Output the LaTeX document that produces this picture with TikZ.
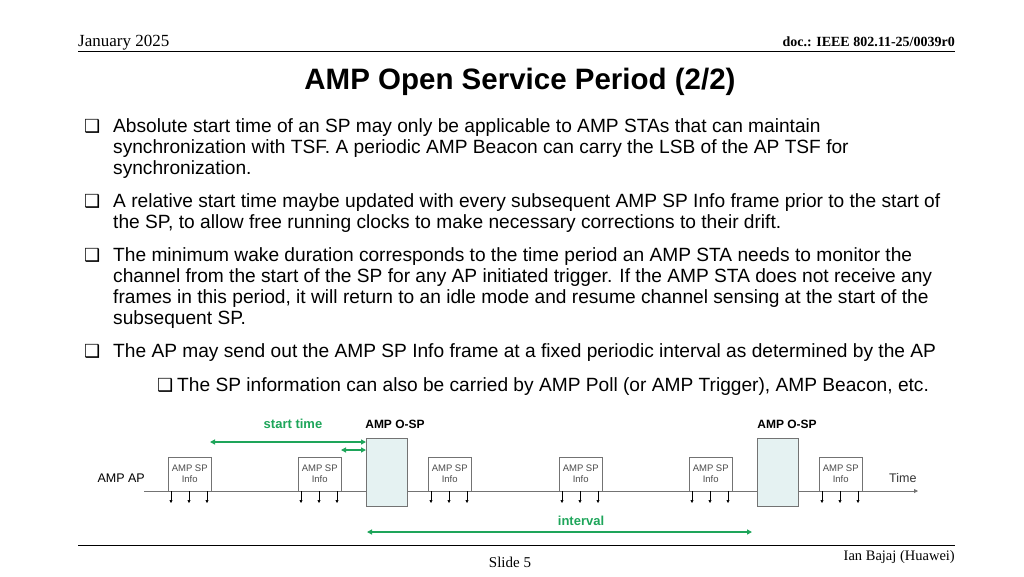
\documentclass[tikz,border=0pt]{standalone}
\usepackage{fontspec}
\setmainfont{Liberation Sans}
\newfontfamily\serif{Liberation Serif}
\newfontfamily\sym{DejaVu Sans}
\usetikzlibrary{arrows.meta}
\definecolor{grncol}{RGB}{30,165,90}
\begin{document}
\begin{tikzpicture}[x=1pt,y=-1pt,
  txt/.style={anchor=base west,inner sep=0pt,font=\fontsize{19.15}{22}\selectfont},
  bul/.style={anchor=base west,inner sep=0pt,font=\sym\fontsize{18}{20}\selectfont},
  info/.style={draw=black!55,fill=white,minimum width=43pt,minimum height=34pt,inner sep=0pt,anchor=south west,align=center,font=\fontsize{9.5}{11.5}\selectfont,text=black!70},
  osp/.style={draw=black!55,fill=teal!10,minimum width=41pt,minimum height=68pt,inner sep=0pt,anchor=north west},
  grn/.style={draw=grncol,line width=1.3pt,{Triangle[length=5pt,width=5pt]}-{Triangle[length=5pt,width=5pt]}},
  tick/.style={-{Triangle[length=3pt,width=3pt]},line width=0.6pt},
  lbl/.style={font=\bfseries\fontsize{12}{14}\selectfont,inner sep=0pt}]
\useasboundingbox (0,0) rectangle (1024,576);
\node[anchor=base west,inner sep=0pt,font=\serif\fontsize{17}{19}\selectfont] (date) at (78,46) {January 2025};
\node[anchor=base east,inner sep=0pt,font=\serif\bfseries\fontsize{14}{16}\selectfont] (doc) at (955,46) {doc.: IEEE 802.11-25/0039r0};
\draw[line width=0.6pt] (78,51) -- (955,51);
\node[font=\bfseries\fontsize{29.5}{32}\selectfont,inner sep=0pt] (title) at (520,82) {AMP Open Service Period (2/2)};
\foreach \y in {132,207,261,357} \node[bul] at (84,\y) {❑};
\node[bul] at (157,391) {❑};
\node[txt] (l1) at (113,132) {Absolute start time of an SP may only be applicable to AMP STAs that can maintain};
\node[txt] (l2) at (113,153) {synchronization with TSF. A periodic AMP Beacon can carry the LSB of the AP TSF for};
\node[txt] (l3) at (113,174) {synchronization.};
\node[txt] (l4) at (113,207) {A relative start time maybe updated with every subsequent AMP SP Info frame prior to the start of};
\node[txt] (l5) at (113,228) {the SP, to allow free running clocks to make necessary corrections to their drift.};
\node[txt] (l6) at (113,261) {The minimum wake duration corresponds to the time period an AMP STA needs to monitor the};
\node[txt] (l7) at (113,282) {channel from the start of the SP for any AP initiated trigger. If the AMP STA does not receive any};
\node[txt] (l8) at (113,303) {frames in this period, it will return to an idle mode and resume channel sensing at the start of the};
\node[txt] (l9) at (113,324) {subsequent SP.};
\node[txt] (l10) at (113,357) {The AP may send out the AMP SP Info frame at a fixed periodic interval as determined by the AP};
\node[txt] (l11) at (177,391) {The SP information can also be carried by AMP Poll (or AMP Trigger), AMP Beacon, etc.};
% diagram
\coordinate (t0) at (144,491); \coordinate (t1) at (918,491);
\draw[black!55,line width=0.8pt,-{Triangle[length=4pt,width=4pt]}] (t0) -- (t1);
\node[font=\fontsize{12.5}{14}\selectfont,anchor=east,inner sep=0pt] (ap) at (145,478) {AMP AP};
\node[font=\fontsize{12.5}{14}\selectfont,anchor=west,inner sep=0pt,text=black!80] (time) at (889,478) {Time};
\foreach \n/\x in {1/168,2/298,3/428,4/559,5/689,6/819}{
  \node[info] (i\n) at (\x,491) {AMP SP\\Info};
  \foreach \d in {3,21,39} \draw[tick] (\x+\d,491) -- (\x+\d,503);
}
\node[osp] (o1) at (366,438) {};
\node[osp] (o2) at (757,438) {};
\node[lbl] (ol1) at (395,424) {AMP O-SP};
\node[lbl] (ol2) at (787,424) {AMP O-SP};
\node[lbl,font=\bfseries\fontsize{13}{15}\selectfont,text=grncol] (st) at (293,424) {start time};
\node[lbl,font=\bfseries\fontsize{13}{15}\selectfont,text=grncol] (iv) at (581,521) {interval};
\coordinate (s0) at (210,442);
\draw[grn] (s0) -- (o1.north west |- s0);
\coordinate (s1) at (341,450);
\draw[grn] (s1) -- (o1.north west |- s1);
\coordinate (v0) at (367,532); \coordinate (v1) at (752,532);
\draw[grn] (v0) -- (v1);
\draw[line width=0.6pt] (78,545) -- (955,545);
\node[font=\serif\fontsize{15}{17}\selectfont,inner sep=0pt] (slide) at (510,562) {Slide 5};
\node[anchor=east,font=\serif\fontsize{14.5}{16}\selectfont,inner sep=0pt] (auth) at (955,557) {Ian Bajaj (Huawei)};
\end{tikzpicture}
\end{document}
